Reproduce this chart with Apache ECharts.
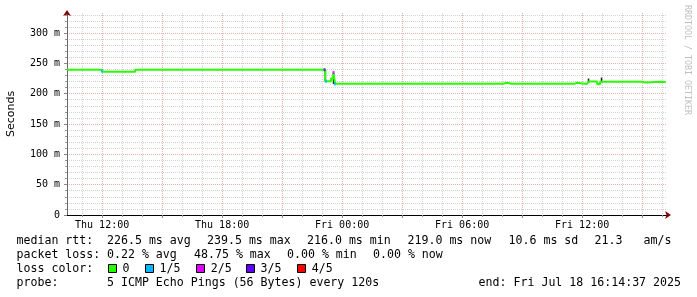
<!DOCTYPE html>
<html><head><meta charset="utf-8">
<script src="https://cdn.jsdelivr.net/npm/echarts@6/dist/echarts.min.js"></script>
<style>html,body{margin:0;padding:0;background:#fff}#c{width:697px;height:297px}</style>
</head><body><div id="c"></div>
<script>
// ---- data (time = hours since Thu Jul 17 2025 00:00) ----
const axisStartHour = 10.2436;   // Thu 10:14:37
const axisEndHour = 40.2436;     // Fri 16:14:37
const xLabelHours = [12, 18, 24, 30, 36];
const xLabelTexts = ["Thu 12:00", "Thu 18:00", "Fri 00:00", "Fri 06:00", "Fri 12:00"];
const yTickValues = [0, 50, 100, 150, 200, 250, 300];
const yTickLabels = ["0", "50 m", "100 m", "150 m", "200 m", "250 m", "300 m"];
const yMaxMs = 333;

const medianHours = [10.2436, 12.00, 13.65, 23.16, 23.45, 23.56, 23.65,
  24.18, 24.26, 24.65, 24.73, 25.03, 25.11, 25.48, 25.56, 25.98, 26.06, 26.32, 26.40,
  26.73, 26.81, 27.15, 27.23, 27.73, 27.81, 28.12, 28.20, 28.53, 28.61, 28.95, 29.03,
  29.52, 29.60, 30.12, 30.20, 30.58, 30.66, 31.03, 31.11, 31.53, 31.61, 32.08, 32.20,
  32.48, 32.56, 33.62, 33.70, 33.95, 34.03, 34.37, 34.45, 34.78, 34.86, 35.63, 35.75,
  36.10, 36.18, 36.25, 36.33, 36.75, 36.90, 37.65, 37.72, 39.00, 39.15, 39.98, 40.05, 40.18];
const medianMs = [239.5, 236.0, 239.5, 220.5, 225.5, 235.0, 216.5,
  218.0, 216.5, 218.0, 216.5, 218.0, 216.5, 218.0, 216.5, 218.0, 216.5, 218.0, 216.5,
  218.0, 216.5, 218.0, 216.5, 218.0, 216.5, 218.0, 216.5, 218.0, 216.5, 218.0, 216.5,
  218.0, 216.5, 218.0, 216.5, 218.0, 216.5, 218.0, 216.5, 218.0, 216.5, 218.0, 216.5,
  218.0, 216.5, 218.0, 216.5, 218.0, 216.5, 218.0, 216.5, 218.0, 216.5, 218.0, 216.5,
  218.0, 216.5, 217.5, 220.0, 216.0, 219.5, 218.5, 219.5, 218.5, 219.5, 218.5, 219.3, 219.0];

const smokeHours = [23.16, 23.57, 36.32, 36.82, 36.97];
const smokeLowMs = [220.0, 216.0, 218.0, 214.0, 219.0];
const smokeHighMs = [239.5, 234.0, 225.0, 217.0, 226.5];

const lossHours = [12.0, 23.12, 23.19, 23.57, 23.63];
const lossMs = [237.5, 239.5, 220.5, 235.0, 215.8];
const lossLevel = [1, 3, 1, 2, 1];

const lossNames = ["0", "1/5", "2/5", "3/5", "4/5"];
const lossColors = ["#26ff00", "#00b8ff", "#dd00ff", "#5e00ff", "#ff0000"];

const rttTitle = "median rtt:";
const rttStats = ["226.5 ms avg", "239.5 ms max", "216.0 ms min", "219.0 ms now", "10.6 ms sd", "21.3", "am/s"];
const lossTitle = "packet loss:";
const lossStats = ["0.22 % avg", "48.75 % max", "0.00 % min", "0.00 % now"];
const colorTitle = "loss color:";
const probeTitle = "probe:";
const probeText = "5 ICMP Echo Pings (56 Bytes) every 120s";
const endText = "end: Fri Jul 18 16:14:37 2025";
const watermark = "RRDTOOL / TOBI OETIKER";

// ---- layout (pixels) ----
const L = {
  colX: 16.5, rowY: [241, 255, 269, 283],
  rttX: [107, 207, 307, 407.5, 508.5, 594.5, 643.5],
  lossX: [107, 194, 287, 373],
  boxX: [108.5, 145.5, 196.5, 246.5, 297.5], boxLabelX: [122.5, 159.5, 210.7, 260.6, 311.8],
  probeX: 107, endRight: 681
};
const MONO = '"DejaVu Sans Mono", monospace';
const legendFont = '11.6px ' + MONO;

const minorX = []; for (let h = 11; h <= 40; h++) if (h % 3) minorX.push(h);
const majorX = []; for (let h = 12; h <= 40; h += 3) majorX.push(h);
const minorY = []; for (let v = 10; v <= 330; v += 10) if (v % 50) minorY.push(v);

const MGRID = '#e8b0b0', GRID = '#d2d2d2';

function txt(text, x, y, align) {
  return { type: 'text', x: x, y: y, silent: true,
    style: { text: text, fill: '#000', font: legendFont, align: align || 'left', verticalAlign: 'middle',
             textAlign: align || 'left', textVerticalAlign: 'middle' } };
}
const graphics = [];
graphics.push(txt(rttTitle, L.colX, L.rowY[0]));
rttStats.forEach((s, i) => graphics.push(txt(s, L.rttX[i], L.rowY[0])));
graphics.push(txt(lossTitle, L.colX, L.rowY[1]));
lossStats.forEach((s, i) => graphics.push(txt(s, L.lossX[i], L.rowY[1])));
graphics.push(txt(colorTitle, L.colX, L.rowY[2]));
lossNames.forEach((s, i) => {
  graphics.push({ type: 'rect', silent: true, shape: { x: L.boxX[i], y: L.rowY[2] - 4.5, width: 8, height: 8 },
    style: { fill: lossColors[i], stroke: '#000', lineWidth: 1 } });
  graphics.push(txt(s, L.boxLabelX[i], L.rowY[2]));
});
graphics.push(txt(probeTitle, L.colX, L.rowY[3]));
graphics.push(txt(probeText, L.probeX, L.rowY[3]));
graphics.push(txt(endText, L.endRight, L.rowY[3], 'right'));
graphics.push({ type: 'text', x: 687, y: 5, rotation: -Math.PI / 2, silent: true,
  style: { text: watermark, fill: '#c0c0c0', font: '8.3px ' + MONO, align: 'left', verticalAlign: 'middle',
           textAlign: 'left', textVerticalAlign: 'middle' } });

const hidden = { axisTick: { show: false }, axisLabel: { show: false }, splitLine: { show: false } };

const option = {
  animation: false,
  backgroundColor: '#ffffff',
  grid: { left: 67, right: 30, top: 13, bottom: 82, containLabel: false, outerBoundsMode: 'none' },
  xAxis: [
    Object.assign({ type: 'value', min: axisStartHour, max: axisEndHour, position: 'bottom',
      axisLine: { show: true, onZero: false, symbol: ['none', 'arrow'], symbolSize: [6, 6], symbolOffset: [0, 4],
        lineStyle: { color: '#800000', width: 1 } } }, hidden),
    { type: 'value', min: axisStartHour, max: axisEndHour, position: 'bottom',
      axisLine: { show: false },
      axisTick: { show: true, customValues: minorX, length: 2, lineStyle: { color: '#999' } },
      axisLabel: { show: false },
      splitLine: { show: true, lineStyle: { color: GRID, type: [1, 1], width: 1 } } },
    { type: 'value', min: axisStartHour, max: axisEndHour, position: 'bottom',
      axisLine: { show: true, onZero: false, lineStyle: { color: '#000', width: 1 } },
      axisTick: { show: true, customValues: majorX, length: 3, lineStyle: { color: '#888' } },
      axisLabel: { show: true, customValues: xLabelHours, margin: 5,
        formatter: v => xLabelTexts[xLabelHours.indexOf(Math.round(v))] || '',
        fontFamily: MONO, fontSize: 10, color: '#000' },
      splitLine: { show: true, lineStyle: { color: MGRID, type: [1, 1], width: 1 } } }
  ],
  yAxis: [
    Object.assign({ type: 'value', min: 0, max: yMaxMs, position: 'left',
      axisLine: { show: true, onZero: false, symbol: ['none', 'arrow'], symbolSize: [6, 6], symbolOffset: [0, 3],
        lineStyle: { color: '#800000', width: 1 } } }, hidden),
    { type: 'value', min: 0, max: yMaxMs, position: 'left',
      axisLine: { show: false },
      axisTick: { show: true, customValues: minorY, length: 2, lineStyle: { color: '#999' } },
      axisLabel: { show: false },
      splitLine: { show: true, lineStyle: { color: GRID, type: [1, 1], width: 1 } } },
    { type: 'value', min: 0, max: yMaxMs, position: 'left',
      axisLine: { show: true, onZero: false, lineStyle: { color: '#666', width: 1 } },
      axisTick: { show: true, customValues: yTickValues, length: 3, lineStyle: { color: '#888' } },
      axisLabel: { show: true, customValues: yTickValues, margin: 7,
        formatter: v => yTickLabels[yTickValues.indexOf(Math.round(v))] || '',
        fontFamily: MONO, fontSize: 10, color: '#000' },
      splitLine: { show: true, lineStyle: { color: MGRID, type: [1, 1], width: 1 } },
      name: 'Seconds', nameLocation: 'middle', nameGap: 50, nameRotate: 90,
      nameTextStyle: { fontFamily: '"DejaVu Sans", sans-serif', fontSize: 11, color: '#000' } }
  ],
  series: [
    { type: 'custom', xAxisIndex: 2, yAxisIndex: 2, z: 3, silent: true,
      data: smokeHours.map((h, i) => [h, smokeLowMs[i], smokeHighMs[i]]),
      renderItem: function (params, api) {
        const top = api.coord([api.value(0), api.value(2)]);
        const bot = api.coord([api.value(0), api.value(1)]);
        return { type: 'rect', shape: { x: top[0] - 0.75, y: top[1], width: 1.5, height: bot[1] - top[1] },
          style: { fill: '#1a1a1a' } };
      } },
    { type: 'line', xAxisIndex: 2, yAxisIndex: 2, z: 4, step: 'end', showSymbol: false, symbol: 'none', silent: true,
      data: medianHours.map((h, i) => [h, medianMs[i]]),
      lineStyle: { color: lossColors[0], width: 2 } },
    { type: 'scatter', xAxisIndex: 2, yAxisIndex: 2, z: 5, symbol: 'rect', symbolSize: [2, 3], silent: true,
      data: lossHours.map((h, i) => ({ value: [h, lossMs[i]], itemStyle: { color: lossColors[lossLevel[i]] } })) }
  ],
  graphic: graphics
};
const chart = echarts.init(document.getElementById('c'), null, { renderer: 'canvas' });
chart.setOption(option);
</script></body></html>
